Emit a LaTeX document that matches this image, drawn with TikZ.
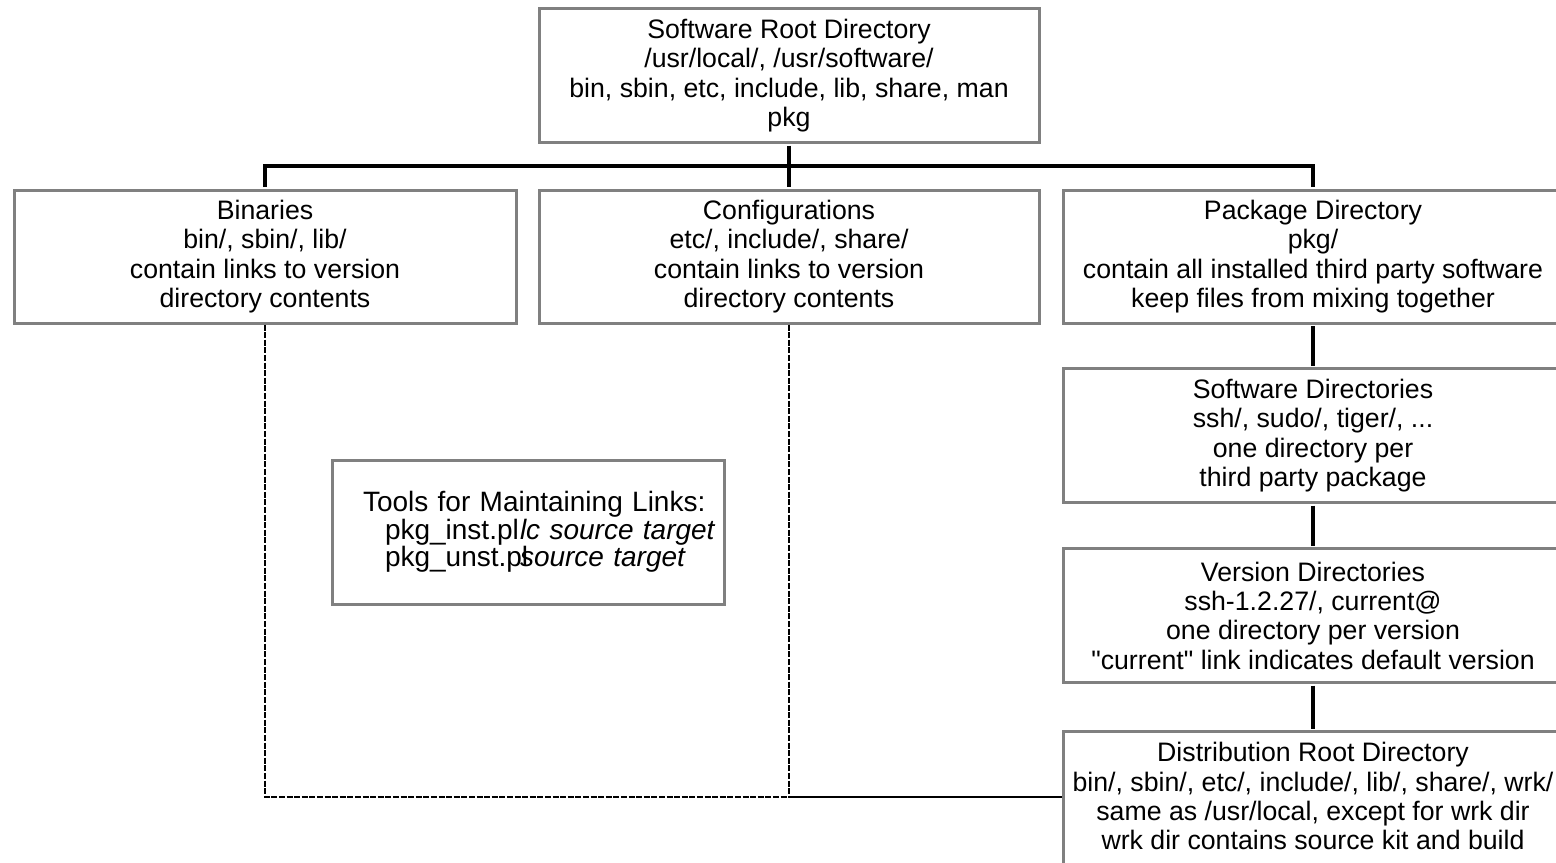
\documentclass[tikz,border=0pt]{standalone}
\usepackage{fontspec}
\setmainfont{Liberation Sans}[Ligatures=TeXOff]
\usetikzlibrary{positioning}

\begin{document}
\begin{tikzpicture}[x=0.5pt,y=-0.5pt,
  dir node/.style={rectangle,draw=gray,line width=1.5pt,fill=white,align=center,
    minimum width=250pt,minimum height=67pt,inner sep=0pt,
    font=\fontsize{13.35}{14.65}\selectfont},
  tool node/.style={rectangle,draw=gray,line width=1.5pt,fill=white,align=left,
    minimum width=196pt,minimum height=72pt,inner sep=0pt,text width=165pt,
    font=\fontsize{14}{13.8}\selectfont},
  tree/.style={line width=2.2pt,shorten >=.75pt,shorten <=.75pt},
  link/.style={line width=.6pt,dash pattern=on 3pt off .8pt},
  plain link/.style={line width=.8pt}]

  \useasboundingbox (0,0) rectangle (1556,862);

  \node[dir node] (root) at (789,75.5) {Software Root Directory\\ /usr/local/, /usr/software/\\
    bin, sbin, etc, include, lib, share, man\\ pkg};

  \node[dir node,minimum width=251pt,minimum height=66.5pt] (bin) at (265,256.5)
    {Binaries\\ bin/, sbin/, lib/\\ contain links to version\\ directory contents};
  \node[dir node,minimum height=66.5pt] (conf) at (789,256.5)
    {Configurations\\ etc/, include/, share/\\ contain links to version\\ directory contents};
  \node[dir node,minimum height=66.5pt] (pkg) at (1313,256.5)
    {Package Directory\\ pkg/\\ contain all installed third party software\\ keep files from mixing together};

  \node[dir node] (soft) at (1313,435.5)
    {Software Directories\\ ssh/, sudo/, tiger/, ...\\ one directory per\\ third party package};
  \node[dir node] (ver) at (1313,615.5)
    {Version Directories\\ ssh-1.2.27/, current@\\ one directory per version\\
    "current" link indicates default version};
  \node[dir node,anchor=north,inner ysep=5.5pt,text depth=70pt] (dist) at (1313,730)
    {Distribution Root Directory\\ bin/, sbin/, etc/, include/, lib/, share/, wrk/\\
    same as /usr/local, except for wrk dir\\ wrk dir contains source kit and build};

  \node[tool node] (tools) at (528,532)
    {\mbox{Tools for Maintaining Links:}\\
     \hspace*{11pt}\makebox[67.5pt][l]{pkg\_inst.pl}\mbox{\itshape lc source target}\\
     \hspace*{11pt}\makebox[67.5pt][l]{pkg\_unst.pl}\mbox{\itshape source target}};

  % tree of directories
  \coordinate (bus) at (789,166);
  \draw[tree] (root.south) -- (conf.north);
  \draw[tree] (bin.north) |- (bus) -| (pkg.north);
  \draw[tree] (pkg.south) -- (soft.north);
  \draw[tree] (soft.south) -- (ver.north);
  \draw[tree] (ver.south) -- (dist.north);

  % links into the distribution
  \coordinate (join) at (789,797);
  \draw[link] (bin.south) |- (join);
  \draw[link] (conf.south) -- (join);
  \draw[plain link] (join) -- (join -| dist.west);
\end{tikzpicture}
\end{document}
